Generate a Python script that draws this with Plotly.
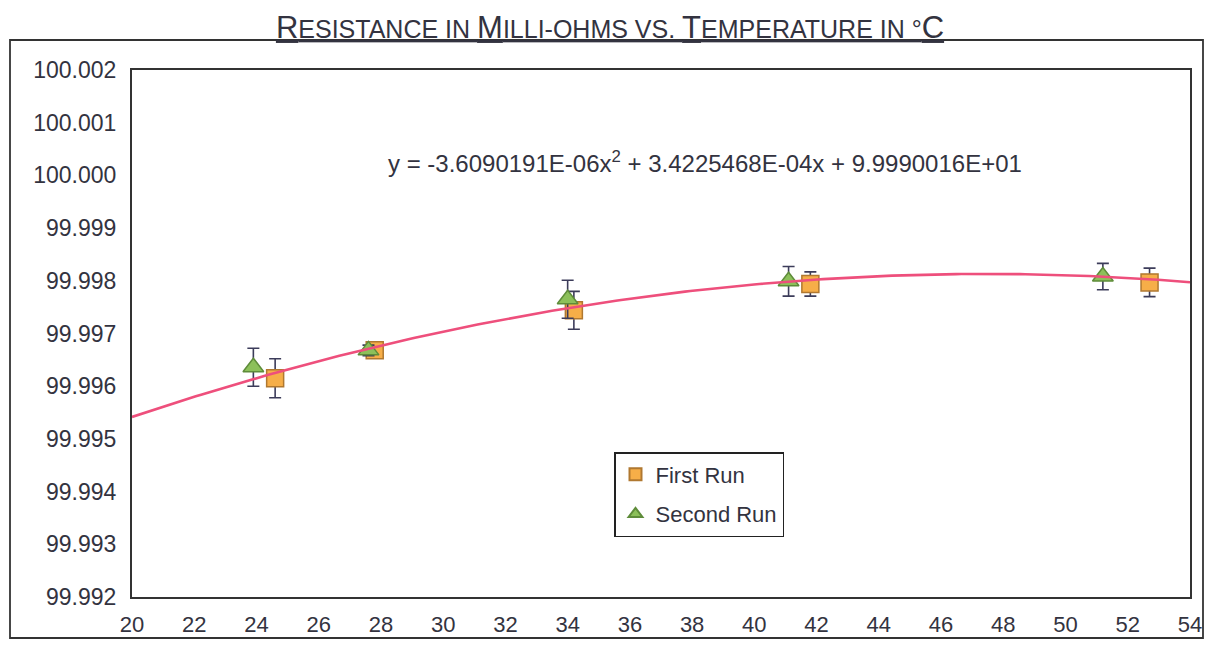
import numpy as np
import plotly.graph_objects as go

# ---- data ----
first_x = [24.6, 27.8, 34.2, 41.8, 52.7]
first_y = [99.99615, 99.99668, 99.99744, 99.99794, 99.99797]
first_err = [0.00037, 0.00010, 0.00036, 0.00023, 0.00027]

second_x = [23.9, 27.6, 34.0, 41.1, 51.2]
second_y = [99.99636, 99.99668, 99.99765, 99.99799, 99.99808]
second_err = [0.00036, 0.00010, 0.00036, 0.00028, 0.00025]

# trendline coefficients shown on the chart (a*x^2 + b*x + c)
trend_coef = [-3.6090191e-06, 3.4225468e-04, 9.9990016e01]
x_range = [20, 54]
y_range = [99.992, 100.002]
x_ticks = list(range(20, 55, 2))
y_ticks = [99.992, 99.993, 99.994, 99.995, 99.996, 99.997, 99.998, 99.999, 100.000, 100.001, 100.002]

trend_x = np.linspace(x_range[0], x_range[1], 200)
trend_y = np.polyval(trend_coef, trend_x)

FONT = "Liberation Sans, Arial, sans-serif"
err_style = dict(type="data", visible=True, color="#3c3c5a", thickness=1.6, width=6)

fig = go.Figure()
fig.add_trace(go.Scatter(
    x=first_x, y=first_y, mode="markers", name="First Run", legendgroup="a",
    error_y=dict(array=first_err, **err_style),
    marker=dict(symbol="square", size=17, color="#F6AE48",
                line=dict(color="#B07830", width=1.5)),
))
fig.add_trace(go.Scatter(
    x=second_x, y=second_y, mode="markers", name="Second Run", legendgroup="b",
    error_y=dict(array=second_err, **err_style),
    marker=dict(symbol="triangle-up", size=18, color="#8CC05A",
                line=dict(color="#5E8C3A", width=1.5)),
))
fig.add_trace(go.Scatter(
    x=trend_x, y=trend_y, mode="lines", showlegend=False,
    line=dict(color="#EE4F7C", width=2.6), hoverinfo="skip",
))

title_txt = ("<u>R<span style='font-size:25px'>ESISTANCE IN </span>M"
             "<span style='font-size:25px'>ILLI-OHMS VS. </span>T"
             "<span style='font-size:25px'>EMPERATURE IN °</span>C</u>")

OFF = 8  # page body margin
W, H = 1212 - OFF, 645 - OFF
L, R, T, B = 132 - OFF, 1212 - 1190, 70 - OFF, 645 - 597
pw, ph = W - L - R, H - T - B

def px(xp):
    return (xp - OFF - L) / pw

def py(yp):
    return (H - B - (yp - OFF)) / ph

fig.update_layout(
    width=W, height=H,
    margin=dict(l=L, r=R, t=T, b=B, autoexpand=False),
    paper_bgcolor="white", plot_bgcolor="white",
    font=dict(family=FONT, size=22, color="#333340"),
    title=dict(text=title_txt, x=(610 - OFF) / W, xanchor="center",
               y=1 - (27 - OFF) / H, yanchor="middle",
               font=dict(family=FONT, size=31, color="#333340")),
    showlegend=True,
    legend=dict(x=px(614), y=py(452), xanchor="left", yanchor="top",
                bgcolor="white", bordercolor="#222", borderwidth=1.5,
                font=dict(family=FONT, size=22, color="#333340"),
                itemsizing="constant", traceorder="grouped", tracegroupgap=8),
    xaxis=dict(range=x_range, tickvals=x_ticks, showgrid=False, zeroline=False,
               showline=True, linecolor="#333", linewidth=2, mirror=True, automargin=False,
               ticks="", ticklabelstandoff=7, tickfont=dict(size=22)),
    yaxis=dict(range=y_range, tickvals=y_ticks, tickformat=".3f", showgrid=False,
               zeroline=False, showline=True, linecolor="#333", linewidth=2, automargin=False,
               mirror=True, ticks="", ticklabelstandoff=9, tickfont=dict(size=23)),
    annotations=[dict(
        xref="paper", yref="paper", x=px(705), y=py(162), xanchor="center", yanchor="middle",
        text="y = -3.6090191E-06x<sup>2</sup> + 3.4225468E-04x + 9.9990016E+01",
        showarrow=False, font=dict(family=FONT, size=24, color="#333340"),
    )],
    shapes=[dict(type="rect", xref="paper", yref="paper", layer="below",
                 x0=px(10), x1=px(1203), y0=py(638), y1=py(40),
                 line=dict(color="#333", width=1.8))],
)

fig.write_html("out.html")
